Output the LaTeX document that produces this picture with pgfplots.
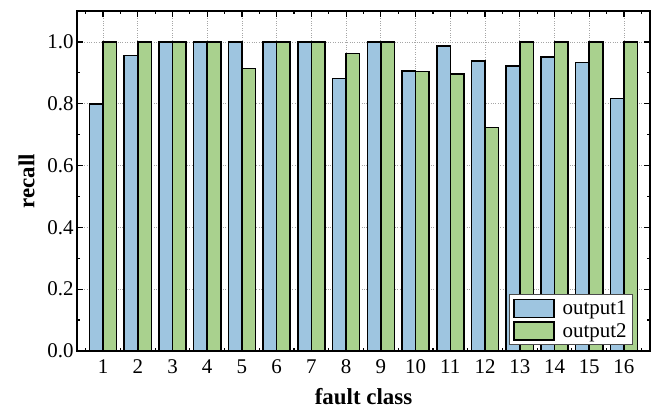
\documentclass[border=0pt]{standalone}
\usepackage{pgfplots}
\pgfplotsset{compat=1.18}
\usepackage{fontspec}
\setmainfont{Liberation Serif}
\definecolor{cblue}{RGB}{158,197,224}
\definecolor{cgreen}{RGB}{169,209,142}
\begin{document}
\begin{tikzpicture}
\useasboundingbox (-77bp,-65bp) rectangle (580bp,351bp);
\begin{axis}[
  at={(0,0)}, anchor=south west,
  scale only axis, width=573bp, height=340bp,
  xmin=0.25, xmax=16.75, ymin=0, ymax=1.1,
  ybar=0pt, bar width=0.39,
  xtick={1,2,3,4,5,6,7,8,9,10,11,12,13,14,15,16},
  minor xtick={0.5,1.5,2.5,3.5,4.5,5.5,6.5,7.5,8.5,9.5,10.5,11.5,12.5,13.5,14.5,15.5,16.5},
  ytick={0,0.2,0.4,0.6,0.8,1.0},
  minor ytick={0.1,0.3,0.5,0.7,0.9},
  /pgf/number format/assume math mode=true,
  yticklabel style={/pgf/number format/assume math mode=true,/pgf/number format/fixed,/pgf/number format/precision=1,/pgf/number format/fixed zerofill},
  xticklabel style={/pgf/number format/assume math mode=true, yshift=-5bp},
  tick align=inside,
  major tick length=6bp, minor tick length=3.5bp,
  every tick/.style={black, line width=1.2bp},
  axis line style={line width=1.4bp},
  grid=major,
  major grid style={dotted, gray!70, line width=0.8bp},
  ticklabel style={font=\fontsize{21}{25}\selectfont},
  xlabel={\textbf{fault class}},
  ylabel={\textbf{recall}},
  label style={font=\fontsize{23}{27}\selectfont},
  xlabel style={yshift=-8bp},
  ylabel style={yshift=6bp},
  legend style={at={(0.97,0.018)}, anchor=south east, draw=black!70, line width=0.6bp,
    font=\fontsize{21}{25}\selectfont, row sep=3bp, inner sep=4bp},
  legend cell align=left,
  legend image code/.code={\draw[#1, line width=1.4bp] (0bp,-9bp) rectangle (40bp,9bp); \path (46bp,0bp);},
]
\addplot[fill=cblue, draw=black, line width=1.6bp] coordinates {
(1,0.800) (2,0.956) (3,1.0) (4,1.0) (5,0.999) (6,1.0) (7,1.0) (8,0.881)
(9,1.0) (10,0.906) (11,0.987) (12,0.939) (13,0.922) (14,0.951) (15,0.933) (16,0.817)};
\addplot[fill=cgreen, draw=black, line width=1.6bp] coordinates {
(1,1.0) (2,1.0) (3,1.0) (4,1.0) (5,0.914) (6,1.0) (7,1.0) (8,0.963)
(9,1.0) (10,0.904) (11,0.897) (12,0.723) (13,1.0) (14,1.0) (15,1.0) (16,1.0)};
\legend{output1, output2}
\end{axis}
\end{tikzpicture}
\end{document}
